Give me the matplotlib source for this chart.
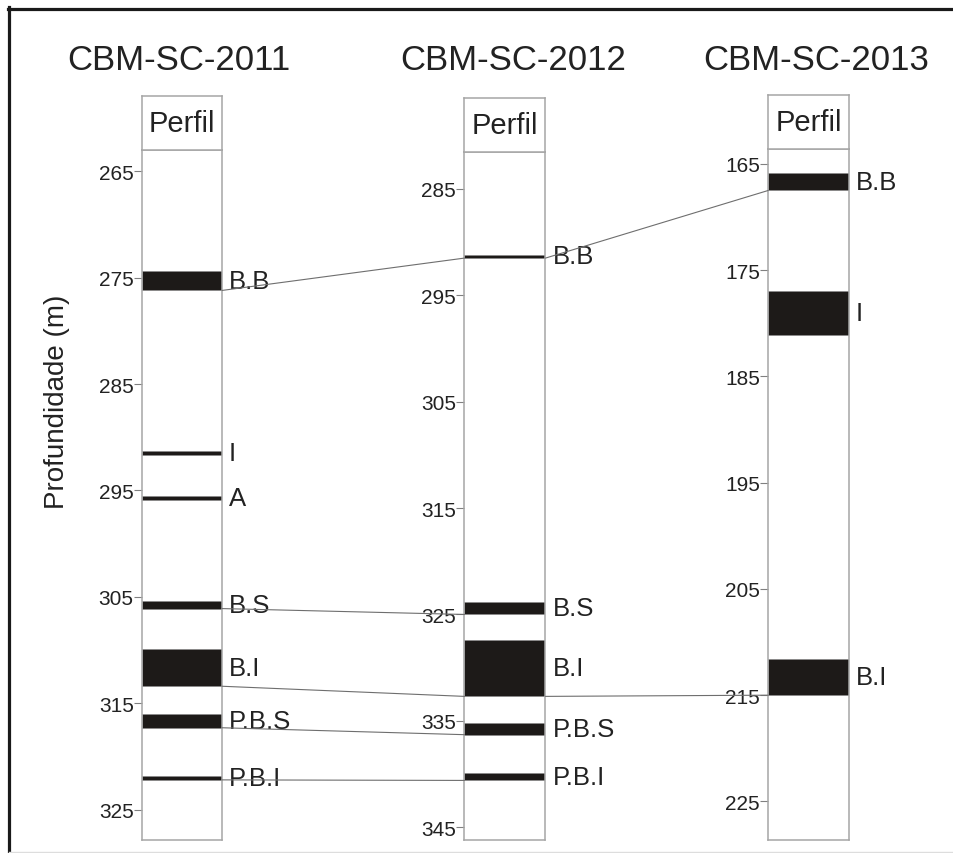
"""
Perfis estratigráficos dos poços CBM-SC com correlação das camadas
"""

import matplotlib
matplotlib.use('Agg')
import matplotlib.pyplot as plt
from matplotlib.patches import ConnectionPatch
from matplotlib.lines import Line2D

plt.rcParams['font.family'] = ['Liberation Sans', 'DejaVu Sans']

# Dados
wells = ['CBM-SC-2011', 'CBM-SC-2012', 'CBM-SC-2013']

names_2011 = ['B.B', 'I', 'A', 'B.S', 'B.I', 'P.B.S', 'P.B.I']
tops_2011 = [274.4, 291.3, 295.5, 305.4, 309.9, 316.0, 321.8]
bases_2011 = [276.2, 291.7, 295.9, 306.1, 313.4, 317.3, 322.2]

names_2012 = ['B.B', 'B.S', 'B.I', 'P.B.S', 'P.B.I']
tops_2012 = [291.2, 323.85, 327.4, 335.2, 339.9]
bases_2012 = [291.5, 325.0, 332.7, 336.3, 340.6]

names_2013 = ['B.B', 'I', 'B.I']
tops_2013 = [165.85, 177.0, 211.6]
bases_2013 = [167.5, 181.1, 215.0]

ylims = [(263.0, 327.85), (281.5, 346.2), (163.6, 228.6)]
yticks = [[265, 275, 285, 295, 305, 315, 325],
          [285, 295, 305, 315, 325, 335, 345],
          [165, 175, 185, 195, 205, 215, 225]]

# Posições em pixels (esquerda, direita, topo cabeçalho, topo dados, base)
W, H = 954, 854
boxes = [(142, 222, 97, 151, 841),
         (464.5, 545.5, 98.7, 152.7, 841),
         (768.3, 849, 96, 150, 840.7)]
title_x = [179, 513, 816]

BOX_COLOR = '#a6a6a6'
LAYER_COLOR = '#1d1a18'
TEXT_COLOR = '#222222'

fig = plt.figure(figsize=(W / 100, H / 100), dpi=100)

layers = [(names_2011, tops_2011, bases_2011),
          (names_2012, tops_2012, bases_2012),
          (names_2013, tops_2013, bases_2013)]

axes = []
for i, (left, right, htop, dtop, bottom) in enumerate(boxes):
    ax = fig.add_axes([left / W, 1 - bottom / H, (right - left) / W, (bottom - dtop) / H])
    ax.set_xlim(0, 1)
    ax.set_ylim(ylims[i][1], ylims[i][0])
    ax.set_xticks([])
    ax.set_yticks(yticks[i])
    ax.tick_params(axis='y', length=5.5, width=0.8, color='#808080', pad=0.5,
                   labelsize=15, labelcolor=TEXT_COLOR)
    for sp in ax.spines.values():
        sp.set_color(BOX_COLOR)
        sp.set_linewidth(1.1)

    names, tops, bases = layers[i]
    for name, top, base in zip(names, tops, bases):
        ax.axhspan(top, base, facecolor=LAYER_COLOR, edgecolor='#8a8a8a', linewidth=0.4)
        ax.annotate(name, xy=(1, (top + base) / 2), xycoords=('axes fraction', 'data'),
                    xytext=(5, 0), textcoords='offset points', ha='left', va='center',
                    fontsize=18.5, color=TEXT_COLOR)

    # Cabeçalho "Perfil"
    hax = fig.add_axes([left / W, 1 - dtop / H, (right - left) / W, (dtop - htop) / H])
    hax.set_xticks([])
    hax.set_yticks([])
    for sp in hax.spines.values():
        sp.set_color(BOX_COLOR)
        sp.set_linewidth(1.1)
    hax.text(0.5, 0.5, 'Perfil', ha='center', va='center', fontsize=21,
             color=TEXT_COLOR, transform=hax.transAxes)

    fig.text(title_x[i] / W, 1 - 61 / H, wells[i], ha='center', va='center',
             fontsize=25, color=TEXT_COLOR)
    axes.append(ax)

# Linhas de correlação (base das camadas)
def correlate(ax_a, names_a, bases_a, ax_b, names_b, bases_b):
    for name, base in zip(names_a, bases_a):
        if name in names_b and name not in ('I', 'A'):
            base_b = bases_b[names_b.index(name)]
            con = ConnectionPatch(xyA=(1, base), coordsA=ax_a.transData,
                                  xyB=(0, base_b), coordsB=ax_b.transData,
                                  color='#6e6e6e', linewidth=0.8)
            fig.add_artist(con)

correlate(axes[0], names_2011, bases_2011, axes[1], names_2012, bases_2012)
correlate(axes[1], names_2012, bases_2012, axes[2], names_2013, bases_2013)

fig.text(57 / W, 1 - 402 / H, 'Profundidade (m)', rotation=90, ha='center', va='center',
         fontsize=20, color=TEXT_COLOR)

# Moldura
fig.add_artist(Line2D([9.5 / W, 9.5 / W], [0, 1 - 8 / H], color='#1a1a1a', linewidth=2.3,
                      transform=fig.transFigure))
fig.add_artist(Line2D([8 / W, 1], [1 - 9.5 / H, 1 - 9.5 / H], color='#1a1a1a', linewidth=2.3,
                      transform=fig.transFigure))
fig.add_artist(Line2D([9.5 / W, 1], [1 - 852.5 / H, 1 - 852.5 / H], color='#dddddd',
                      linewidth=1, transform=fig.transFigure))

plt.savefig('out.png', dpi=100)
plt.close()
